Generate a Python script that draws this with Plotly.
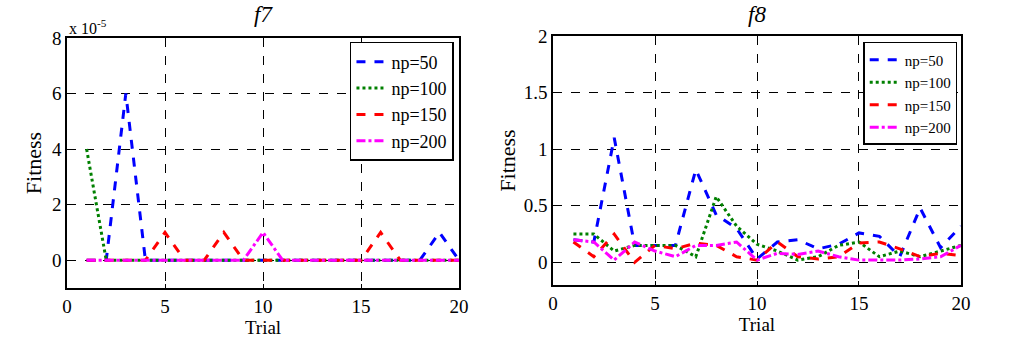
import plotly.graph_objects as go

trials = list(range(1, 21))
series_names = ["np=50", "np=100", "np=150", "np=200"]
colors = ["#0000ff", "#008000", "#ff0000", "#ff00ff"]
dashes = ["dash", "dot", "dash", "dashdot"]

# f7 values in units of 1e-5
f7_np50 = [0, 0, 6, 0, 0, 0, 0, 0, 0, 0, 0, 0, 0, 0, 0, 0, 0, 0, 1, 0]
f7_np100 = [4, 0, 0, 0, 0, 0, 0, 0, 0, 0, 0, 0, 0, 0, 0, 0, 0, 0, 0, 0]
f7_np150 = [0, 0, 0, 0, 1, 0, 0, 1, 0, 0, 0, 0, 0, 0, 0, 1, 0, 0, 0, 0]
f7_np200 = [0, 0, 0, 0, 0, 0, 0, 0, 0, 1, 0, 0, 0, 0, 0, 0, 0, 0, 0, 0]
f7_scale = 1e-5

f8_np50 = [0.2, 0.18, 1.1, 0.15, 0.15, 0.15, 0.82, 0.42, 0.3, 0.03, 0.18, 0.2, 0.12, 0.16, 0.26, 0.23, 0.05, 0.48, 0.13, 0.32]
f8_np100 = [0.25, 0.25, 0.1, 0.15, 0.15, 0.15, 0.05, 0.58, 0.32, 0.16, 0.1, 0.02, 0.05, 0.15, 0.18, 0.05, 0.1, 0.05, 0.1, 0.15]
f8_np150 = [0.18, 0.05, 0.25, 0.0, 0.15, 0.12, 0.17, 0.15, 0.05, 0.02, 0.18, 0.05, 0.03, 0.05, 0.17, 0.18, 0.12, 0.05, 0.08, 0.06]
f8_np200 = [0.2, 0.18, 0.02, 0.18, 0.1, 0.05, 0.15, 0.15, 0.18, 0.02, 0.08, 0.07, 0.1, 0.05, 0.02, 0.02, 0.02, 0.03, 0.05, 0.15]

f7_ticks = [0, 2, 4, 6, 8]
f8_ticks = [0, 0.5, 1, 1.5, 2]
x_ticks = [0, 5, 10, 15, 20]

FONT = "Liberation Serif, Times New Roman, serif"

fig = go.Figure()

f7_data = [f7_np50, f7_np100, f7_np150, f7_np200]
f8_data = [f8_np50, f8_np100, f8_np150, f8_np200]

for name, vals, c, d in zip(series_names, f7_data, colors, dashes):
    fig.add_trace(go.Scatter(x=trials, y=[v * f7_scale for v in vals], mode="lines", name=name,
                             line=dict(color=c, dash=d, width=3), xaxis="x", yaxis="y", legend="legend"))
for name, vals, c, d in zip(series_names, f8_data, colors, dashes):
    fig.add_trace(go.Scatter(x=trials, y=vals, mode="lines", name=name,
                             line=dict(color=c, dash=d, width=3), xaxis="x2", yaxis="y2", legend="legend2"))

axis_common = dict(showline=True, linecolor="black", linewidth=1.5, mirror=True,
                   showgrid=True, gridcolor="black", griddash="dash", gridwidth=1,
                   zeroline=False, ticks="inside", ticklen=4, tickcolor="black", automargin=False,
                   tickfont=dict(family=FONT, size=19, color="black"))

x_title_font = dict(family=FONT, size=19, color="black")
y_title_font = dict(family=FONT, size=22, color="black")

fig.update_layout(
    width=1014, height=341,
    margin=dict(l=0, r=0, t=0, b=0),
    paper_bgcolor="white", plot_bgcolor="white",
    xaxis=dict(domain=[0.0661, 0.4527], range=[0, 20], tickvals=x_ticks, anchor="y",
               title=dict(text="Trial", font=x_title_font, standoff=0),
               **axis_common),
    yaxis=dict(domain=[0.1554, 0.8886], range=[-1e-5, 8e-5], tickvals=[t * f7_scale for t in f7_ticks],
               ticktext=[str(t) for t in f7_ticks], anchor="x",
               title=dict(text="Fitness", font=y_title_font, standoff=4),
               **axis_common),
    xaxis2=dict(domain=[0.5454, 0.9477], range=[0, 20], tickvals=x_ticks, anchor="y2",
                title=dict(text="Trial", font=x_title_font, standoff=0),
                **axis_common),
    yaxis2=dict(domain=[0.1642, 0.8944], range=[-0.2, 2], tickvals=f8_ticks,
                ticktext=["0", "0.5", "1", "1.5", "2"], anchor="x2",
                title=dict(text="Fitness", font=y_title_font, standoff=2),
                **axis_common),
    legend=dict(x=0.4477, y=0.877, xanchor="right", yanchor="top", bgcolor="white",
                bordercolor="black", borderwidth=1.5, font=dict(family=FONT, size=18, color="black"),
                tracegroupgap=0, itemwidth=30),
    legend2=dict(x=0.944, y=0.877, xanchor="right", yanchor="top", bgcolor="white",
                 bordercolor="black", borderwidth=1.5, font=dict(family=FONT, size=15, color="black"),
                 tracegroupgap=0, itemwidth=30),
    annotations=[
        dict(text="<i>f7</i>", x=0.2594, y=1.0, xref="paper", yref="paper", xanchor="center", yanchor="top",
             showarrow=False, font=dict(family=FONT, size=23, color="black")),
        dict(text="<i>f8</i>", x=0.7466, y=1.0, xref="paper", yref="paper", xanchor="center", yanchor="top",
             showarrow=False, font=dict(family=FONT, size=23, color="black")),
        dict(text="x 10<sup>-5</sup>", x=0.066, y=0.885, xref="paper", yref="paper", xanchor="left", yanchor="bottom",
             showarrow=False, font=dict(family=FONT, size=16, color="black")),
    ],
)

fig.write_html("out.html", config={"displayModeBar": False})

# remove the default page margin so the figure sits at the window's top-left corner
with open("out.html", "r", encoding="utf-8") as fh:
    html = fh.read()
html = html.replace("<body>", '<body style="margin:0;">', 1)
with open("out.html", "w", encoding="utf-8") as fh:
    fh.write(html)
